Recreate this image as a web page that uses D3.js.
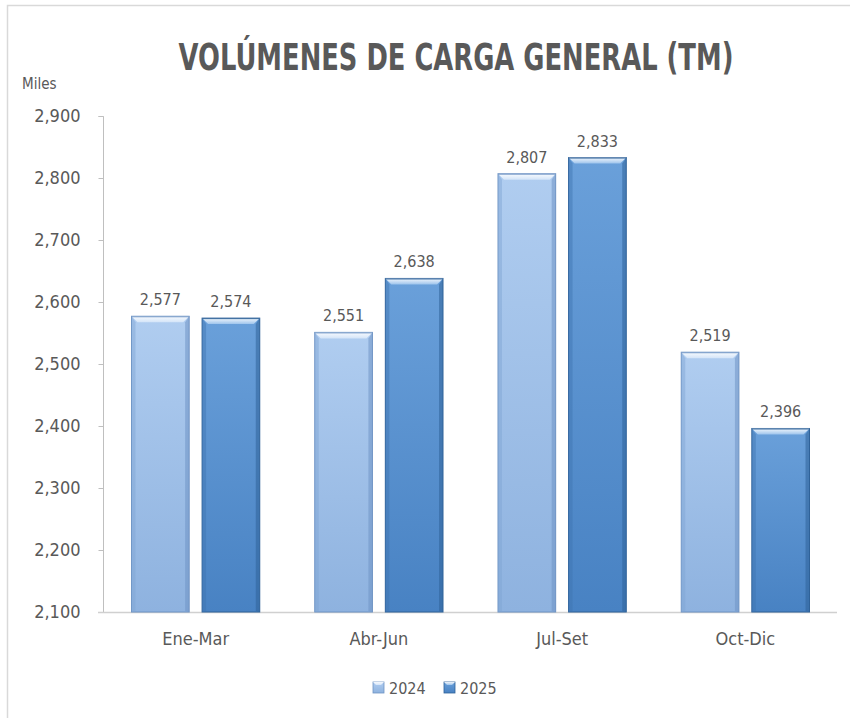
<!DOCTYPE html>
<html><head><meta charset="utf-8">
<script src="https://cdn.jsdelivr.net/npm/d3@7"></script>
<style>
html,body{margin:0;padding:0;background:#fff;}
svg{display:block;}
text{font-family:"DejaVu Sans Condensed","Liberation Sans Narrow",sans-serif;font-stretch:condensed;fill:#595959;}
</style></head>
<body><svg id="c" width="850" height="718"></svg>
<script>
const categories = ["Ene-Mar","Abr-Jun","Jul-Set","Oct-Dic"];
const seriesNames = ["2024","2025"];
const values2024 = [2577, 2551, 2807, 2519];
const values2025 = [2574, 2638, 2833, 2396];
const yTicks = [2100,2200,2300,2400,2500,2600,2700,2800,2900];
const titleText = "VOLÚMENES DE CARGA GENERAL (TM)";
const unitText = "Miles";

const svg = d3.select("#c");
const W = 850, H = 718;
const plot = {left:104, right:837, top:116, bottom:612};

// frame
svg.append("path").attr("d",`M7.5,${H} L7.5,5.5 L${W},5.5`).attr("fill","none").attr("stroke","#d9d9d9").attr("stroke-width",1.5);

const y = d3.scaleLinear().domain([2100,2900]).range([plot.bottom, plot.top]);
const x0 = d3.scaleBand().domain(categories).range([plot.left, plot.right]).paddingInner(0).paddingOuter(0);
const x1 = d3.scaleBand().domain(seriesNames).range([27.5, x0.bandwidth()-27.5]).paddingInner(0.183);

const defs = svg.append("defs");
const pal = {
  "2024": {top:"#b0cdf0", bot:"#8eb2df", edge:"#6f94c4", bevel:"#d3e4f8", side:"#7fa3d2"},
  "2025": {top:"#6aa0da", bot:"#4882c3", edge:"#2f6299", bevel:"#9cc3ec", side:"#3d73b0"}
};
seriesNames.forEach(s=>{
  const g = defs.append("linearGradient").attr("id","g"+s).attr("x1",0).attr("y1",0).attr("x2",0).attr("y2",1);
  g.append("stop").attr("offset","0%").attr("stop-color",pal[s].top);
  g.append("stop").attr("offset","100%").attr("stop-color",pal[s].bot);
  const b = defs.append("linearGradient").attr("id","b"+s).attr("x1",0).attr("y1",0).attr("x2",0).attr("y2",1);
  b.append("stop").attr("offset","0%").attr("stop-color","#ffffff").attr("stop-opacity",0.9);
  b.append("stop").attr("offset","100%").attr("stop-color",pal[s].bevel);
});

// axes
const yAxis = d3.axisLeft(y).tickValues(yTicks).tickSize(5).tickPadding(18).tickFormat(d3.format(","));
const ga = svg.append("g").attr("transform",`translate(${plot.left-0.5},0)`).call(yAxis);
ga.select(".domain").attr("stroke","#bfbfbf").attr("d",`M-5,${plot.top+0.5}H0V${plot.bottom+0.5}`);
ga.selectAll(".tick line").attr("stroke","#bfbfbf");
ga.selectAll(".tick text").attr("font-size",18).attr("fill","#595959");

const xAxis = d3.axisBottom(x0).tickSize(0).tickPadding(20);
const gx = svg.append("g").attr("transform",`translate(0,${plot.bottom+0.5})`).call(xAxis);
gx.select(".domain").attr("stroke","#d0d0d0").attr("stroke-width",1.5).attr("d",`M${plot.left-6},0H${plot.right}`);
gx.selectAll(".tick text").attr("font-size",18).attr("fill","#595959");

// bars
const data = [];
categories.forEach((c,i)=>{
  data.push({cat:c, s:"2024", v:values2024[i]});
  data.push({cat:c, s:"2025", v:values2025[i]});
});
const bars = svg.append("g");
data.forEach(d=>{
  const bx = x0(d.cat)+x1(d.s), bw = x1.bandwidth();
  const by = y(d.v), bh = plot.bottom - by;
  const g = bars.append("g");
  g.append("rect").attr("x",bx).attr("y",by).attr("width",bw).attr("height",bh)
    .attr("fill",`url(#g${d.s})`).attr("stroke",pal[d.s].edge).attr("stroke-width",1);
  const bv = 4;
  g.append("polygon").attr("points",`${bx},${by} ${bx+bv},${by+bv+2} ${bx+bv},${plot.bottom-1} ${bx},${plot.bottom}`)
    .attr("fill",pal[d.s].side).attr("opacity",0.45);
  g.append("polygon").attr("points",`${bx+bw},${by} ${bx+bw-bv},${by+bv+2} ${bx+bw-bv},${plot.bottom-1} ${bx+bw},${plot.bottom}`)
    .attr("fill",pal[d.s].edge).attr("opacity",0.55);
  g.append("polygon").attr("points",`${bx},${by} ${bx+bw},${by} ${bx+bw-bv-2},${by+6} ${bx+bv+2},${by+6}`)
    .attr("fill",`url(#b${d.s})`);
  g.append("line").attr("x1",bx).attr("x2",bx+bw).attr("y1",by+0.5).attr("y2",by+0.5).attr("stroke",pal[d.s].edge).attr("stroke-width",1);
  svg.append("text").attr("x",bx+bw/2).attr("y",by-11).attr("text-anchor","middle")
    .attr("font-size",16).text(d3.format(",")(d.v));
});

// title: tall condensed look, scaled horizontally to reference width
const title = svg.append("text").attr("x",0).attr("y",0).attr("text-anchor","middle")
  .attr("font-size",37).attr("font-weight","bold").attr("fill","#595959").text(titleText);
const tw = title.node().getComputedTextLength();
title.attr("transform",`translate(456,70) scale(${Math.min(1,555/tw)},1)`);
svg.append("text").attr("x",22).attr("y",89).attr("font-size",15).text(unitText);

// legend
const lg = svg.append("g");
const legX = [373, 444];
seriesNames.forEach((s,i)=>{
  const lx = legX[i], ly = 682;
  lg.append("rect").attr("x",lx).attr("y",ly).attr("width",11).attr("height",11).attr("fill",`url(#g${s})`).attr("stroke",pal[s].edge).attr("stroke-width",0.8);
  lg.append("polygon").attr("points",`${lx},${ly} ${lx+11},${ly} ${lx+8},${ly+3} ${lx+3},${ly+3}`).attr("fill",`url(#b${s})`);
  lg.append("text").attr("x",lx+16).attr("y",ly+12).attr("font-size",16).text(s);
});
</script></body></html>
